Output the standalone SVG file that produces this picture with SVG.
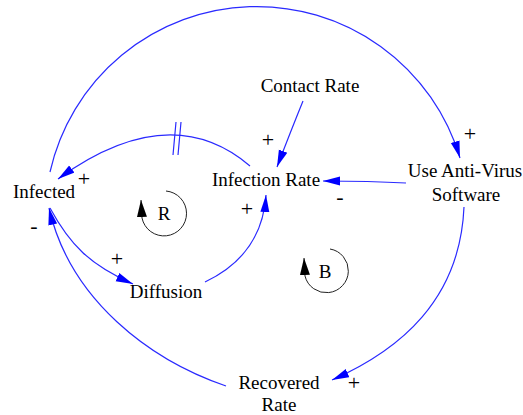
<svg xmlns="http://www.w3.org/2000/svg" width="523" height="415" viewBox="0 0 523 415">
<style>
.lbl{font-family:"Liberation Serif","Times New Roman",serif;font-size:19px;fill:#000;text-anchor:middle}
.sg{font-family:"Liberation Serif","Times New Roman",serif;font-size:22px;fill:#000;text-anchor:middle}
.ln{fill:none;stroke:#2a2aff;stroke-width:1.2;marker-end:url(#ah)}
.lp{fill:none;stroke:#222;stroke-width:1}
</style>
<defs>
<marker id="ah" markerUnits="userSpaceOnUse" markerWidth="18" markerHeight="10" refX="17" refY="5" orient="auto">
<path d="M0,0.5 L17,5 L0,9.5 Z" fill="#0000ff"/>
</marker>
<marker id="lh" markerUnits="userSpaceOnUse" markerWidth="18" markerHeight="12" refX="17" refY="5.5" orient="auto">
<path d="M0,0.5 L17,5.5 L0,10.5 Z" fill="#000"/>
</marker>
</defs>
<rect width="523" height="415" fill="#fff"/>
<g id="connectors">
<path class="ln" d="M50,172 A212,212 0 0 1 460,158"/>
<path class="ln" d="M250,166 Q170,98 58,179"/>
<path class="ln" d="M303,101 Q292,128 277,167"/>
<path class="ln" d="M406,183 Q370,181 323,181"/>
<path class="ln" d="M50,208 C70,245 90,265 133,284"/>
<path class="ln" d="M226,386 C150,360 70,300 49,208"/>
<path class="ln" d="M205,282 Q262,255 266,195"/>
<path class="ln" d="M464,207 C460,300 400,350 332,380"/>
<path d="M176,122 L173,155 M181,122 L178,155" stroke="#2a2aff" stroke-width="1.2" fill="none"/>
</g>
<g id="loop-R">
<path class="lp" d="M166,191 A22.5,22.5 0 1 1 142,218 L141,200" marker-end="url(#lh)"/>
<text class="lbl" x="164" y="220">R</text>
</g>
<g id="loop-B">
<path class="lp" d="M330,249 A22,22 0 1 1 305,276 L304,258" marker-end="url(#lh)"/>
<text class="lbl" x="325" y="278">B</text>
</g>
<g id="contact-rate"><text class="lbl" x="310" y="92">Contact Rate</text></g>
<g id="infection-rate"><text class="lbl" x="266" y="186">Infection Rate</text></g>
<g id="infected"><text class="lbl" x="44" y="198">Infected</text></g>
<g id="diffusion"><text class="lbl" x="166" y="298">Diffusion</text></g>
<g id="use-anti-virus"><text class="lbl" x="465" y="177">Use Anti-Virus</text><text class="lbl" x="466" y="201">Software</text></g>
<g id="recovered-rate"><text class="lbl" x="279" y="389">Recovered</text><text class="lbl" x="279" y="411">Rate</text></g>
<g id="signs">
<text class="sg" x="470" y="141">+</text>
<text class="sg" x="84" y="186">+</text>
<text class="sg" x="34" y="233">-</text>
<text class="sg" x="268" y="147">+</text>
<text class="sg" x="117" y="266">+</text>
<text class="sg" x="247" y="216">+</text>
<text class="sg" x="340" y="204">-</text>
<text class="sg" x="354" y="390">+</text>
</g>
</svg>
